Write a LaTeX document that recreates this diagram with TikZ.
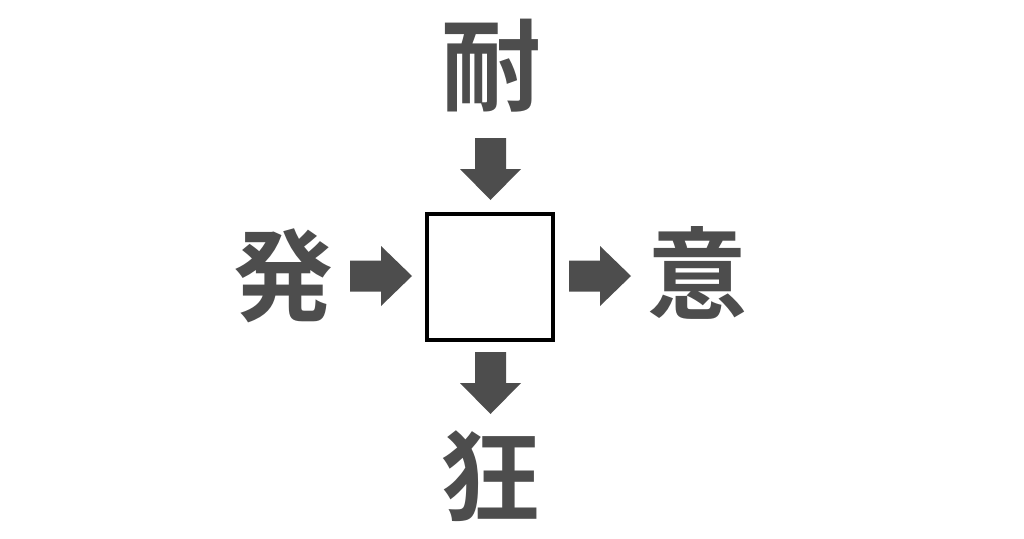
\documentclass[tikz,border=0pt]{standalone}
\usepackage{fontspec}
\newfontfamily\cjk{Noto Sans CJK JP}[UprightFont={* Bold}]
\definecolor{ink}{HTML}{4D4D4D}
\begin{document}
\begin{tikzpicture}[x=1pt,y=-1pt,
  kanji/.style={font=\cjk\fontsize{100}{100}\selectfont, text=ink, inner sep=0pt},
  blank/.style={draw=black, line width=4pt, minimum size=126pt, inner sep=0pt, fill=white}]
\useasboundingbox[fill=white] (0,0) rectangle (1024,538);
\node[blank] (box) at (490,277) {};
\node[kanji] (top) at (491,66) {耐};
\node[kanji] (bot) at (490,476) {狂};
\node[kanji] (lft) at (283,276) {発};
\node[kanji] (rgt) at (697,273) {意};
% block arrows: shaft half-width 15.5, head half-width 30.5, shaft 31, head 31
\newcommand{\blockarrowdown}[1]{\fill[ink] ([shift={(-15.5,0)}]#1) -- ++(31,0) -- ++(0,31) -- ++(15,0) -- ++(-30.5,31) -- ++(-30.5,-31) -- ++(15,0) -- cycle;}
\newcommand{\blockarrowright}[1]{\fill[ink] ([shift={(0,-15.5)}]#1) -- ++(0,31) -- ++(31,0) -- ++(0,14.5) -- ++(31,-30) -- ++(-31,-30) -- ++(0,14.5) -- cycle;}
\coordinate (a1) at (490.5,138);
\coordinate (a2) at (490.5,352);
\coordinate (a3) at (350,276);
\coordinate (a4) at (569,276);
\blockarrowdown{a1}
\blockarrowdown{a2}
\blockarrowright{a3}
\blockarrowright{a4}
\end{tikzpicture}
\end{document}
